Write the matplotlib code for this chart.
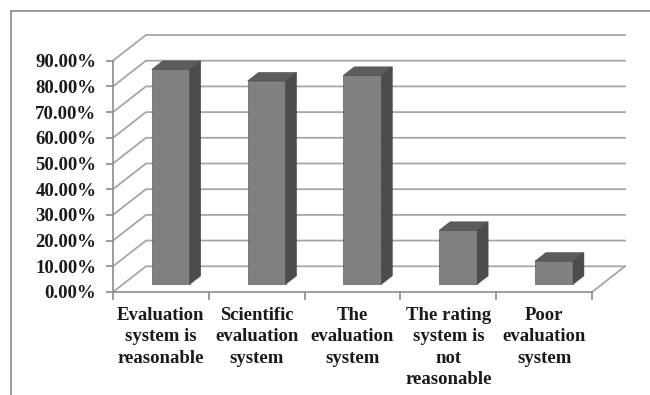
import matplotlib
matplotlib.use("Agg")
import matplotlib.pyplot as plt
from matplotlib.patches import Polygon
from matplotlib.lines import Line2D
from matplotlib.ticker import FuncFormatter
from matplotlib.font_manager import FontProperties

categories = [
    "Evaluation\nsystem is\nreasonable",
    "Scientific\nevaluation\nsystem",
    "The\nevaluation\nsystem",
    "The rating\nsystem is\nnot\nreasonable",
    "Poor\nevaluation\nsystem",
]
values = [0.836, 0.791, 0.813, 0.210, 0.090]
y_ticks = [0.0, 0.1, 0.2, 0.3, 0.4, 0.5, 0.6, 0.7, 0.8, 0.9]

# oblique projection of the chart depth (data units)
DEPTH_X = 0.344
DEPTH_Y = 0.100
BAR_W = 0.397
BAR_FRONT = 0.30   # fraction of depth where bar front sits
BAR_BACK = 0.63

FRONT_C = "#808080"
SIDE_C = "#4c4c4c"
TOP_C = "#5c5c5c"
EDGE_C = "#454545"
GRID_C = "#a6a6a6"
AXIS_C = "#8c8c8c"

W, H = 650, 395
fig = plt.figure(figsize=(W / 100, H / 100), dpi=100)
fig.patch.set_facecolor("white")

# outer chart border (top and left)
fig.add_artist(Line2D([11 / W, 1.0], [1 - 10.7 / H, 1 - 10.7 / H],
                      transform=fig.transFigure, color="#8a8a8a", lw=1.2))
fig.add_artist(Line2D([11 / W, 11 / W], [0.0, 1 - 10.7 / H],
                      transform=fig.transFigure, color="#8a8a8a", lw=1.2))

n = len(values)
left_px, right_px, bottom_px, top_px = 113, 625, 292, 35
ax = fig.add_axes([left_px / W, 1 - bottom_px / H,
                   (right_px - left_px) / W, (bottom_px - top_px) / H])
ax.set_xlim(0, n + DEPTH_X)
ax.set_ylim(0, y_ticks[-1] + DEPTH_Y)
ax.patch.set_visible(False)

for s in ("top", "right"):
    ax.spines[s].set_visible(False)
ax.spines["left"].set_bounds(0, y_ticks[-1])
ax.spines["bottom"].set_bounds(0, n)
for s in ("left", "bottom"):
    ax.spines[s].set_color(AXIS_C)
    ax.spines[s].set_linewidth(1.2)

# side wall + back wall gridlines
for v in y_ticks:
    ax.plot([0, DEPTH_X, n + DEPTH_X], [v, v + DEPTH_Y, v + DEPTH_Y],
            color=GRID_C, lw=1.3, zorder=1, clip_on=False)
# right edge of the floor
ax.plot([n, n + DEPTH_X], [0, DEPTH_Y], color=GRID_C, lw=1.3, zorder=1, clip_on=False)

# 3-D looking bars
dx = (BAR_BACK - BAR_FRONT) * DEPTH_X
dy = (BAR_BACK - BAR_FRONT) * DEPTH_Y
base = BAR_FRONT * DEPTH_Y
for i, v in enumerate(values):
    x0 = i + 0.5 - BAR_W / 2 + BAR_FRONT * DEPTH_X
    x1 = x0 + BAR_W
    top = base + v
    ax.bar(x0, v, width=BAR_W, bottom=base, align="edge", color=FRONT_C,
           edgecolor=EDGE_C, linewidth=0.4, zorder=3, clip_on=False)
    ax.add_patch(Polygon([(x1, base), (x1, top), (x1 + dx, top + dy), (x1 + dx, base + dy)],
                         closed=True, facecolor=SIDE_C, edgecolor=EDGE_C, lw=0.4,
                         zorder=3, clip_on=False))
    ax.add_patch(Polygon([(x0, top), (x1, top), (x1 + dx, top + dy), (x0 + dx, top + dy)],
                         closed=True, facecolor=TOP_C, edgecolor=EDGE_C, lw=0.4,
                         zorder=3, clip_on=False))

font = dict(family="Liberation Serif", weight="bold", size=13.5)

ax.set_yticks(y_ticks)
ax.yaxis.set_major_formatter(FuncFormatter(lambda v, p: f"{v * 100:.2f}%"))
ax.tick_params(axis="y", direction="out", length=5, width=1.2, color=AXIS_C,
               pad=7, labelcolor="#1a1a1a")
for lab in ax.get_yticklabels():
    lab.set_fontproperties(FontProperties(**font))

ax.set_xticks(range(n + 1))
ax.set_xticklabels([])
ax.tick_params(axis="x", which="major", direction="out", length=6, width=1.2, color=AXIS_C)
ax.set_xticks([i + 0.5 for i in range(n)], minor=True)
ax.set_xticklabels(categories, minor=True, linespacing=1.32)
ax.tick_params(axis="x", which="minor", length=0, pad=11, labelcolor="#1a1a1a")
for lab in ax.get_xticklabels(minor=True):
    lab.set_fontproperties(FontProperties(**font))

fig.savefig("out.png", dpi=100, facecolor="white")
